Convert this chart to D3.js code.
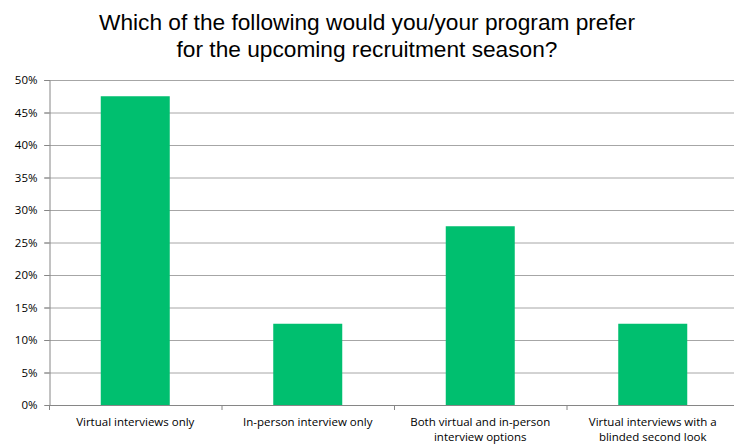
<!DOCTYPE html>
<html>
<head>
<meta charset="utf-8">
<script src="https://cdn.jsdelivr.net/npm/d3@7"></script>
<style>
  body { margin: 0; background: #fff; }
  svg { display: block; }
</style>
</head>
<body>
<div id="chart"></div>
<script>
const titleLines = ["Which of the following would you/your program prefer", "for the upcoming recruitment season?"];
const categories = [
    ["Virtual interviews only"],
    ["In-person interview only"],
    ["Both virtual and in-person", "interview options"],
    ["Virtual interviews with a", "blinded second look"]
];
const values = [0.475, 0.125, 0.275, 0.125];
const yTicks = [0, 0.05, 0.10, 0.15, 0.20, 0.25, 0.30, 0.35, 0.40, 0.45, 0.50];

const width = 734, height = 445;
const margin = { top: 80, right: -5, bottom: 40, left: 49 };

const svg = d3.select('#chart').append('svg')
    .attr('width', width).attr('height', height);

const x = d3.scaleBand()
    .domain(d3.range(categories.length))
    .range([margin.left, width - margin.right])
    .paddingInner(0.6).paddingOuter(0.3);

const y = d3.scaleLinear()
    .domain([0, 0.5])
    .range([height - margin.bottom, margin.top]);

// title
svg.append('text')
    .attr('text-anchor', 'middle')
    .style('font-family', 'Liberation Sans, Arial, sans-serif')
    .style('font-size', '22.7px')
    .style('fill', '#000')
    .selectAll('tspan').data(titleLines).join('tspan')
    .attr('x', 367).attr('y', (d, i) => 30 + i * 27)
    .text(d => d);

// gridlines
svg.append('g').selectAll('line').data(yTicks.slice(1)).join('line')
    .attr('x1', margin.left - 5).attr('x2', width - margin.right)
    .attr('y1', d => y(d) + 0.5).attr('y2', d => y(d) + 0.5)
    .style('stroke', '#a6a6a6').style('stroke-width', 1);

// bars
svg.append('g').selectAll('rect').data(values).join('rect')
    .attr('x', (d, i) => x(i))
    .attr('y', d => y(d))
    .attr('width', x.bandwidth())
    .attr('height', d => y(0) - y(d))
    .style('fill', '#00bf6f');

// y axis
const yAxis = svg.append('g')
    .attr('transform', `translate(${margin.left + 0.5},0)`)
    .call(d3.axisLeft(y).tickValues(yTicks).tickFormat(d3.format('.0%')).tickSizeOuter(0).tickSize(5));
yAxis.select('.domain').style('stroke', '#868686');
yAxis.selectAll('.tick line').style('stroke', '#868686');
yAxis.selectAll('text')
    .style('font-family', 'Open Sans, Liberation Sans, sans-serif')
    .style('font-size', '11.5px').style('fill', '#000')
    .attr('x', -12);

// x axis
const step = x.step();
const boundaries = d3.range(categories.length + 1).map(i => margin.left + i * step);
const xAxis = svg.append('g');
xAxis.append('line')
    .attr('x1', margin.left).attr('x2', width)
    .attr('y1', y(0) + 0.5).attr('y2', y(0) + 0.5)
    .style('stroke', '#868686');
xAxis.selectAll('line.tk').data(boundaries).join('line').attr('class', 'tk')
    .attr('x1', d => d + 0.5).attr('x2', d => d + 0.5)
    .attr('y1', y(0)).attr('y2', y(0) + 5)
    .style('stroke', '#868686');

xAxis.selectAll('text.cat').data(categories).join('text').attr('class', 'cat')
    .attr('text-anchor', 'middle')
    .style('font-family', 'Open Sans, Liberation Sans, sans-serif')
    .style('font-size', '11.5px').style('fill', '#000')
    .each(function (lines, i) {
        d3.select(this).selectAll('tspan').data(lines).join('tspan')
            .attr('x', x(i) + x.bandwidth() / 2)
            .attr('y', (d, j) => y(0) + 21 + j * 15)
            .text(d => d);
    });
</script>
</body>
</html>
